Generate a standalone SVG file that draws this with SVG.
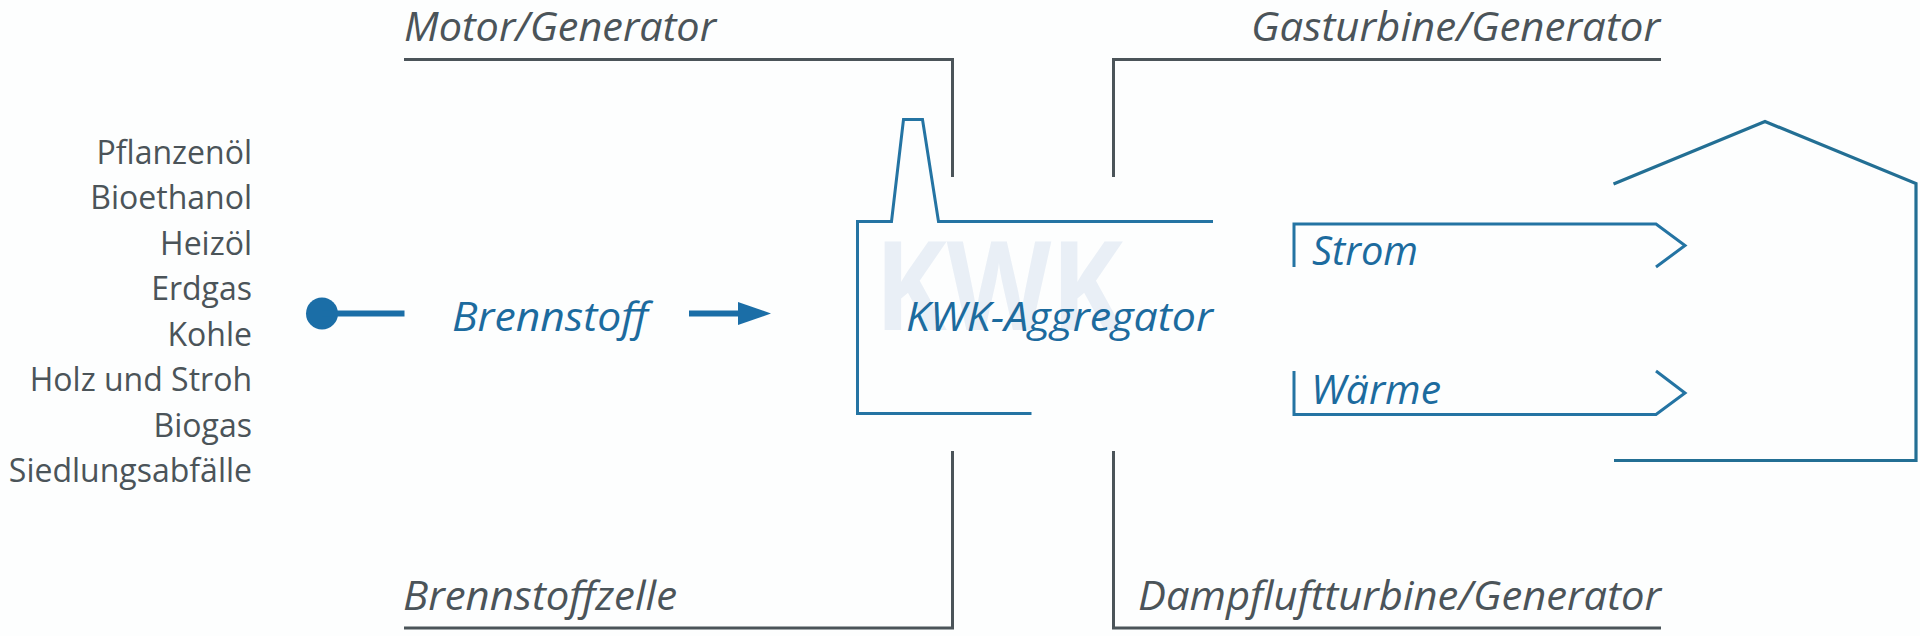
<svg xmlns="http://www.w3.org/2000/svg" width="1920" height="636" viewBox="0 0 1920 636">
<style>
.bg{fill:#fdfefe}
.gray{fill:none;stroke:#4b5459;stroke-width:3}
.blue{fill:none;stroke:#2474a3;stroke-width:3}
.house{fill:none;stroke:#236f94;stroke-width:3.2}
.lbl{font-family:"Open Sans","Liberation Sans",sans-serif;font-style:italic;font-size:40px;fill:#4b5459}
.blt{font-family:"Open Sans","Liberation Sans",sans-serif;font-style:italic;font-size:40px;fill:#1c6b9e}
.src{font-family:"Open Sans","Liberation Sans",sans-serif;font-size:32px;fill:#4b5459;text-anchor:end}
.wm{font-family:"Open Sans","Liberation Sans",sans-serif;font-weight:bold;font-size:123px;fill:#e9eff6}
</style>
<defs>
<marker id="arr" markerWidth="10" markerHeight="10" refX="0" refY="5" orient="auto" markerUnits="userSpaceOnUse" viewBox="0 0 10 10" overflow="visible">
<path d="M0,-6.5 L33,5 L0,16.5 Z" fill="#1b6ea7"/>
</marker>
</defs>
<rect class="bg" x="0" y="0" width="1920" height="636"/>

<g id="sources">
<text class="src" x="252" y="163.5">Pflanzenöl</text>
<text class="src" x="252" y="209">Bioethanol</text>
<text class="src" x="252" y="254.5">Heizöl</text>
<text class="src" x="252" y="300">Erdgas</text>
<text class="src" x="252" y="345.5">Kohle</text>
<text class="src" x="252" y="391">Holz und Stroh</text>
<text class="src" x="252" y="436.5">Biogas</text>
<text class="src" x="252" y="482">Siedlungsabfälle</text>
</g>

<g id="start-dot">
<circle cx="322" cy="313.5" r="16" fill="#1b6ea7"/>
</g>

<g id="brennstoff">
<text class="blt" x="452" y="331" textLength="196" lengthAdjust="spacingAndGlyphs">Brennstoff</text>
</g>

<g id="kwk-aggregator">
<text class="wm" x="875" y="330" textLength="248" lengthAdjust="spacingAndGlyphs">KWK</text>
<path class="blue" d="M1031.5,413.5 H857.5 V221.5 H891.5 L903.5,119.5 H922.5 L938.5,221.5 H1213"/>
<text class="blt" x="906" y="331" textLength="307" lengthAdjust="spacingAndGlyphs">KWK-Aggregator</text>
</g>

<g id="motor-generator">
<text class="lbl" x="404" y="41" textLength="312" lengthAdjust="spacingAndGlyphs">Motor/Generator</text>
<path class="gray" d="M404,59.5 H952.5 V177"/>
</g>

<g id="gasturbine-generator">
<text class="lbl" x="1251" y="41" textLength="409" lengthAdjust="spacingAndGlyphs">Gasturbine/Generator</text>
<path class="gray" d="M1661,59.5 H1113.5 V177"/>
</g>

<g id="brennstoffzelle">
<text class="lbl" x="403" y="610" textLength="274" lengthAdjust="spacingAndGlyphs">Brennstoffzelle</text>
<path class="gray" d="M404,628 H952.5 V451"/>
</g>

<g id="dampfluftturbine-generator">
<text class="lbl" x="1138" y="610" textLength="523" lengthAdjust="spacingAndGlyphs">Dampfluftturbine/Generator</text>
<path class="gray" d="M1661,628 H1113.5 V451"/>
</g>

<g id="strom">
<path class="blue" d="M1294,267 V224 H1656 L1685,245.5 L1656,267"/>
<text class="blt" x="1312" y="265" textLength="106" lengthAdjust="spacingAndGlyphs">Strom</text>
</g>

<g id="waerme">
<path class="blue" d="M1294,371 V414.5 H1656 L1685,393 L1656,371"/>
<text class="blt" x="1311" y="404" textLength="130" lengthAdjust="spacingAndGlyphs">Wärme</text>
</g>

<g id="house">
<path class="house" d="M1613.5,184 L1765,121.5 L1916,183.5 V460.5 H1614"/>
</g>

<g id="connectors">
<line x1="322" y1="313.5" x2="404.5" y2="313.5" stroke="#1b6ea7" stroke-width="6"/>
<line x1="689" y1="313.5" x2="738" y2="313.5" stroke="#1b6ea7" stroke-width="6" marker-end="url(#arr)"/>
</g>
</svg>
